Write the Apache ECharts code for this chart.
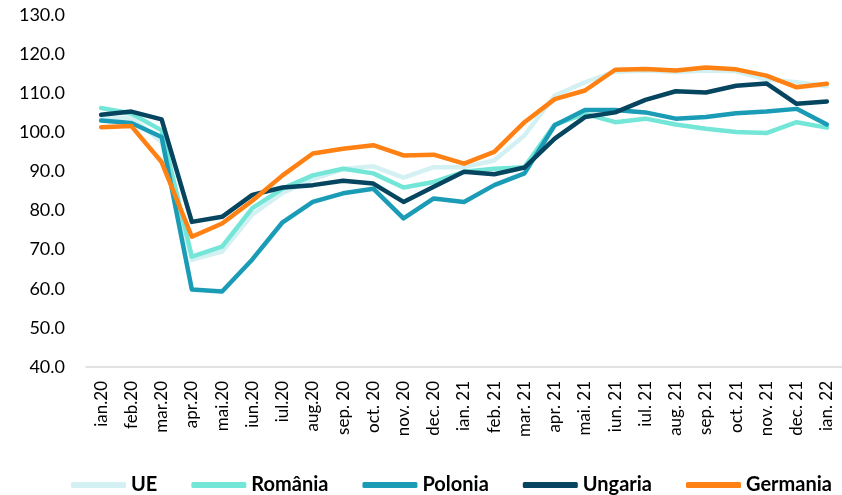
<!DOCTYPE html>
<html lang="ro">
<head>
    <meta charset="UTF-8">
    <title>Indice</title>
    <style>
        * { box-sizing: border-box; margin: 0; padding: 0; }
        body { background: #fff; }
        #chart { width: 842px; height: 495px; }
    </style>
    <script src="https://cdn.jsdelivr.net/npm/echarts@6/dist/echarts.min.js"></script>
</head>
<body>
    <div id="chart"></div>
    <script>
        // luni
        const categories = ['ian.20', 'feb.20', 'mar.20', 'apr.20', 'mai.20', 'iun.20', 'iul.20', 'aug.20',
            'sep. 20', 'oct. 20', 'nov. 20', 'dec. 20', 'ian. 21', 'feb. 21', 'mar. 21', 'apr. 21',
            'mai. 21', 'iun. 21', 'iul. 21', 'aug. 21', 'sep. 21', 'oct. 21', 'nov. 21', 'dec. 21', 'ian. 22'];

        const ue = [103.6, 103.8, 97.5, 67.4, 69.5, 79.0, 84.5, 88.0, 90.6, 91.3, 88.4, 91.1, 91.1,
            92.8, 99.2, 109.4, 112.8, 115.5, 115.8, 115.4, 115.8, 115.6, 113.5, 112.8, 111.8];
        const romania = [106.2, 104.8, 100.5, 68.2, 70.8, 80.6, 85.6, 89.0, 90.7, 89.5, 85.9, 87.3, 89.9,
            90.7, 91.1, 102.0, 104.7, 102.6, 103.5, 102.0, 100.9, 100.1, 99.8, 102.6, 101.2];
        const polonia = [103.0, 102.4, 98.8, 59.8, 59.3, 67.5, 77.0, 82.2, 84.4, 85.6, 78.0, 83.1, 82.2,
            86.5, 89.5, 101.8, 105.7, 105.7, 105.1, 103.5, 103.9, 104.9, 105.3, 106.0, 102.0];
        const ungaria = [104.5, 105.3, 103.3, 77.1, 78.4, 84.0, 85.9, 86.5, 87.6, 86.9, 82.2, 86.1, 89.9,
            89.3, 91.0, 98.4, 103.9, 105.1, 108.3, 110.5, 110.2, 111.9, 112.5, 107.3, 107.9];
        const germania = [101.3, 101.6, 92.4, 73.3, 76.7, 82.5, 89.0, 94.6, 95.8, 96.7, 94.1, 94.3, 92.0,
            95.0, 102.6, 108.5, 110.7, 116.0, 116.2, 115.8, 116.6, 116.1, 114.5, 111.5, 112.4];

        const font = 'Lato, "Open Sans", sans-serif';

        function line(name, data, color) {
            return {
                name: name,
                type: 'line',
                data: data,
                symbol: 'none',
                lineStyle: { width: 4.5, color: color, cap: 'round', join: 'round' },
                itemStyle: { color: color }
            };
        }

        const chart = echarts.init(document.getElementById('chart'));
        chart.setOption({
            animation: false,
            grid: { left: 86, right: -2, top: 15, bottom: 128 },
            legend: {
                left: 66,
                top: 470,
                icon: 'roundRect',
                itemWidth: 55,
                itemHeight: 6,
                itemGap: 34,
                textStyle: { fontFamily: font, fontSize: 20, fontWeight: 'bold', color: '#000' }
            },
            xAxis: {
                type: 'category',
                data: categories,
                axisLine: { lineStyle: { color: '#d9d9d9', width: 1.5 } },
                axisTick: { show: false },
                axisLabel: { rotate: 90, margin: 14, fontFamily: font, fontSize: 17, color: '#000', interval: 0 }
            },
            yAxis: {
                type: 'value',
                min: 40,
                max: 130,
                interval: 10,
                splitLine: { show: false },
                axisLine: { show: false },
                axisTick: { show: false },
                axisLabel: {
                    margin: 21,
                    fontFamily: font,
                    fontSize: 18,
                    color: '#000',
                    formatter: v => v.toFixed(1)
                }
            },
            series: [
                line('UE', ue, '#d3f1f3'),
                line('România', romania, '#74e6d8'),
                line('Polonia', polonia, '#1b9cb6'),
                line('Ungaria', ungaria, '#06455f'),
                line('Germania', germania, '#ff8113')
            ]
        });
    </script>
</body>
</html>
